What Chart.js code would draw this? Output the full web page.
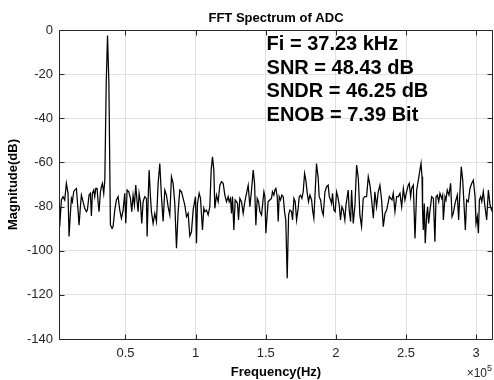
<!DOCTYPE html>
<html>
<head>
<meta charset="utf-8">
<title>FFT Spectrum of ADC</title>
<script src="https://cdn.jsdelivr.net/npm/chart.js@4"></script>
<style>
  html, body { margin: 0; padding: 0; background: #fff; }
</style>
</head>
<body>
<canvas id="chart" width="494" height="380"></canvas>
<script>
// frequency of each point in kHz
const freqKHz = [
  2.67, 3.14, 4.33, 5.52, 6.71, 7.90, 9.09, 9.80, 10.75, 11.47,
  12.18, 13.13, 13.85, 15.03, 16.22, 16.94, 17.89, 18.60, 19.79, 20.98,
  22.17, 22.88, 24.07, 25.02, 25.74, 26.45, 27.40, 28.11, 28.83, 29.78,
  30.49, 31.20, 32.16, 32.87, 33.58, 34.53, 35.3, 36.3, 37.23, 38.2,
  39.29, 40.48, 41.19, 42.38, 43.57, 44.76, 45.95, 47.14, 48.33, 49.52,
  50.23, 51.18, 52.37, 53.56, 54.51, 55.46, 56.41, 57.36, 58.31, 59.03,
  59.74, 60.69, 61.64, 62.59, 63.78, 64.97, 65.45, 66.40, 66.87, 67.82,
  68.54, 69.73, 70.92, 72.11, 73.30, 74.48, 75.67, 76.86, 78.05, 79.24,
  80.43, 81.62, 82.81, 83.99, 85.18, 86.37, 87.56, 88.75, 89.94, 91.13,
  92.32, 93.51, 94.70, 95.89, 97.08, 98.26, 99.93, 100.64, 101.35, 102.54,
  103.50, 104.92, 105.87, 106.59, 107.78, 108.97, 110.15, 111.11, 112.06, 113.01,
  113.72, 114.91, 116.10, 117.29, 118.48, 119.67, 120.86, 122.04, 123.23, 123.95,
  124.90, 125.61, 126.32, 127.28, 128.23, 129.18, 129.89, 130.60, 131.56, 132.74,
  133.93, 135.12, 136.31, 137.50, 138.69, 139.88, 141.07, 142.02, 142.97, 143.92,
  144.87, 145.82, 147.0, 148.7, 149.4, 150.1, 151.0, 151.7, 152.9, 154.1,
  154.8, 155.8, 156.5, 157.2, 158.2, 158.9, 159.6, 160.5, 161.5, 162.5,
  163.4, 164.3, 165.3, 166.3, 167.2, 168.4, 169.1, 170.1, 171.0, 172.0,
  173.1, 173.9, 174.8, 175.8, 176.7, 177.7, 178.6, 179.6, 180.5, 181.5,
  182.7, 183.4, 184.3, 185.3, 186.2, 187.4, 188.1, 189.1, 190.0, 191.0,
  192.2, 193.4, 194.5, 195.3, 196.2, 196.9, 197.6, 198.6, 199.5, 200.5,
  201.4, 202.4, 203.3, 204.3, 205.3, 206.4, 207.2, 208.1, 208.8, 209.5,
  210.5, 211.2, 212.4, 213.6, 214.8, 216.0, 217.1, 218.3, 219.5, 220.7,
  221.9, 223.1, 224.3, 225.5, 226.7, 227.8, 229.0, 230.2, 231.4, 232.6,
  233.8, 235.0, 236.2, 237.4, 238.1, 239.0, 240.0, 240.9, 242.1, 243.3,
  244.5, 245.7, 246.9, 248.1, 249.2, 250.4, 251.6, 252.3, 253.3, 254.0,
  255.2, 256.4, 257.6, 258.8, 259.9, 260.7, 261.4, 261.8, 262.3, 263.0,
  263.7, 264.7, 265.4, 266.1, 267.1, 268.3, 269.5, 270.6, 271.4, 272.3,
  273.3, 274.2, 275.4, 276.1, 276.6, 277.8, 278.5, 279.4, 280.6, 281.8,
  282.8, 283.7, 284.7, 285.6, 286.6, 287.5, 288.5, 289.4, 290.4, 291.3,
  292.3, 293.2, 294.4, 295.6, 296.8, 298.0, 299.2, 299.9, 300.8, 301.6,
  302.3, 303.2, 304.0, 305.1, 306.3, 307.5, 308.7, 309.9, 311.1, 311.8,
  312.7
];

// magnitude in dB, same order as freqKHz
const magDB = [
  -80.1, -89.1, -77.0, -75.5, -77.0, -69.5, -74.0, -93.6, -83.1, -76.3,
  -77.8, -73.3, -72.5, -71.8, -81.6, -88.4, -80.1, -74.8, -77.8, -80.8,
  -82.3, -81.6, -74.8, -74.0, -84.3, -74.0, -72.5, -75.5, -71.8, -71.8,
  -77.8, -82.3, -73.3, -71.0, -69.5, -74.0, -68.0, -24.0, -2.5, -24.0,
  -88.4, -89.9, -89.1, -81.6, -77.0, -75.5, -81.6, -85.3, -81.6, -74.0,
  -87.6, -72.5, -73.3, -76.3, -82.3, -74.8, -79.3, -70.3, -77.8, -82.3,
  -74.0, -77.8, -87.6, -77.8, -75.5, -76.3, -93.6, -72.5, -63.5, -75.5,
  -82.3, -87.6, -83.1, -86.8, -69.5, -60.5, -75.5, -86.8, -72.5, -74.8,
  -80.1, -83.8, -66.5, -69.5, -78.6, -98.9, -82.3, -72.5, -73.3, -76.3,
  -79.3, -84.6, -83.1, -93.3, -91.4, -81.6, -75.5, -96.6, -78.6, -74.0,
  -76.3, -90.6, -80.8, -82.3, -81.6, -83.8, -80.1, -63.5, -57.4, -63.5,
  -80.8, -74.8, -77.8, -70.3, -68.7, -69.5, -74.8, -77.8, -75.5, -77.8,
  -76.3, -83.1, -75.5, -90.6, -77.0, -77.8, -78.6, -86.1, -76.3, -77.8,
  -83.1, -77.8, -74.0, -70.3, -80.1, -72.5, -63.5, -69.5, -88.4, -76.3,
  -77.8, -82.3, -83.8, -73.3, -75.5, -92.1, -83.8, -77.8, -77.0, -76.3,
  -73.3, -74.8, -72.5, -71.8, -75.5, -86.8, -75.5, -77.0, -74.8, -75.5,
  -82.3, -86.1, -112.5, -83.8, -81.6, -82.3, -86.1, -76.3, -77.8, -86.1,
  -80.8, -75.5, -74.8, -76.3, -73.3, -65.0, -68.0, -74.0, -77.8, -74.8,
  -77.0, -81.6, -85.3, -72.5, -60.5, -67.2, -75.5, -77.0, -81.6, -83.8,
  -73.3, -71.0, -70.3, -75.5, -77.0, -78.6, -74.0, -81.6, -82.3, -73.3,
  -75.5, -79.3, -86.1, -80.1, -81.6, -86.1, -79.3, -75.5, -72.5, -81.6,
  -86.8, -72.5, -87.6, -79.3, -61.2, -67.2, -83.8, -89.1, -76.3, -75.5,
  -75.5, -66.5, -70.3, -77.0, -85.3, -73.3, -80.1, -73.3, -70.3, -77.0,
  -89.1, -83.1, -81.6, -77.8, -75.5, -76.3, -77.0, -74.0, -82.3, -75.5,
  -75.5, -74.0, -80.1, -71.8, -77.0, -73.3, -70.3, -69.5, -75.5, -71.8,
  -70.3, -94.4, -72.5, -68.0, -63.5, -60.5, -66.5, -81.6, -90.6, -78.6,
  -96.6, -83.8, -80.1, -87.6, -81.6, -75.5, -76.3, -95.9, -75.5, -74.8,
  -77.8, -74.0, -76.3, -74.8, -86.1, -75.5, -77.0, -72.5, -74.8, -69.5,
  -84.6, -83.1, -79.3, -77.0, -74.8, -86.1, -72.5, -62.0, -68.0, -78.6,
  -90.6, -77.0, -77.8, -71.8, -69.5, -68.0, -75.5, -87.6, -84.6, -92.1,
  -77.0, -75.5, -77.8, -73.3, -80.1, -86.1, -72.5, -79.3, -81.6, -80.1,
  -79.3
];

const xTickValues = [50, 100, 150, 200, 250, 300];
const xTickLabels = ['0.5', '1', '1.5', '2', '2.5', '3'];
const statLines = ['Fi = 37.23 kHz', 'SNR = 48.43 dB', 'SNDR = 46.25 dB', 'ENOB = 7.39 Bit'];

const FONT = 'Arial, "Liberation Sans", Helvetica, sans-serif';
const AXIS = '#262626';

// box, inner ticks, title and the text block (matlab look)
const decor = {
  id: 'decor',
  afterDatasetsDraw(chart) {
    const { ctx, chartArea: a, scales } = chart;
    const L = Math.round(a.left) + 0.5, R = Math.round(a.right) - 0.5;
    const T = Math.round(a.top) + 0.5, B = Math.round(a.bottom) + 0.5;
    ctx.save();
    ctx.strokeStyle = AXIS;
    ctx.lineWidth = 1;
    ctx.beginPath();
    ctx.rect(L, T, R - L, B - T);
    scales.x.ticks.forEach(t => {
      const px = Math.round(scales.x.getPixelForValue(t.value)) + 0.5;
      ctx.moveTo(px, B); ctx.lineTo(px, B - 5);
      ctx.moveTo(px, T); ctx.lineTo(px, T + 5);
    });
    scales.y.ticks.forEach(t => {
      const py = Math.round(scales.y.getPixelForValue(t.value)) + 0.5;
      ctx.moveTo(L, py); ctx.lineTo(L + 5, py);
      ctx.moveTo(R, py); ctx.lineTo(R - 5, py);
    });
    ctx.stroke();

    // title over the plot area
    ctx.fillStyle = '#000';
    ctx.font = 'bold 13px ' + FONT;
    ctx.textAlign = 'center';
    ctx.textBaseline = 'middle';
    ctx.fillText('FFT Spectrum of ADC', (a.left + a.right) / 2, 18);

    // stats text
    ctx.font = 'bold 20px ' + FONT;
    ctx.textAlign = 'left';
    ctx.textBaseline = 'alphabetic';
    const tx = scales.x.getPixelForValue(150.6);
    const ty = scales.y.getPixelForValue(-9.2);
    statLines.forEach((s, i) => ctx.fillText(s, tx, ty + i * 23.5));

    // x10^5 exponent
    ctx.fillStyle = AXIS;
    ctx.font = '12px ' + FONT;
    ctx.textAlign = 'right';
    ctx.fillText('\u00d710', 487, 377);
    ctx.font = '9px ' + FONT;
    ctx.textAlign = 'left';
    ctx.fillText('5', 487, 371);
    ctx.restore();
  }
};

const chart = document.querySelector('#chart').getContext('2d');

new Chart(chart, {
  type: 'line',
  data: {
    datasets: [{
      data: freqKHz.map((f, i) => ({ x: f, y: magDB[i] })),
      borderColor: '#000',
      borderWidth: 1.25,
      pointRadius: 0,
      tension: 0,
      fill: false
    }]
  },
  options: {
    responsive: false,
    animation: false,
    devicePixelRatio: 1,
    layout: { padding: { top: 30, right: 1, left: 0, bottom: 0 } },
    plugins: { legend: { display: false }, tooltip: { enabled: false } },
    scales: {
      x: {
        type: 'linear',
        min: 2.64,
        max: 312,
        afterBuildTicks: s => { s.ticks = xTickValues.map(v => ({ value: v })); },
        afterFit: s => { s.height = 41; },
        grid: { color: '#e1e1e1', drawTicks: false },
        border: { display: false },
        ticks: {
          padding: 7,
          color: AXIS,
          autoSkip: false,
          maxRotation: 0,
          font: { family: FONT, size: 13 },
          callback: v => xTickLabels[xTickValues.indexOf(v)]
        },
        title: {
          display: true,
          text: 'Frequency(Hz)',
          color: '#000',
          font: { family: FONT, size: 13, weight: 'bold' },
          padding: { top: 0, bottom: 0 }
        }
      },
      y: {
        min: -140,
        max: 0,
        afterFit: s => { s.width = 59; },
        grid: { color: '#e1e1e1', drawTicks: false },
        border: { display: false },
        ticks: {
          stepSize: 20,
          padding: 6,
          color: AXIS,
          font: { family: FONT, size: 13 }
        },
        title: {
          display: true,
          text: 'Magnitude(dB)',
          color: '#000',
          font: { family: FONT, size: 13, weight: 'bold' },
          padding: { top: 6, bottom: 0 }
        }
      }
    }
  },
  plugins: [decor]
});
</script>
</body>
</html>
